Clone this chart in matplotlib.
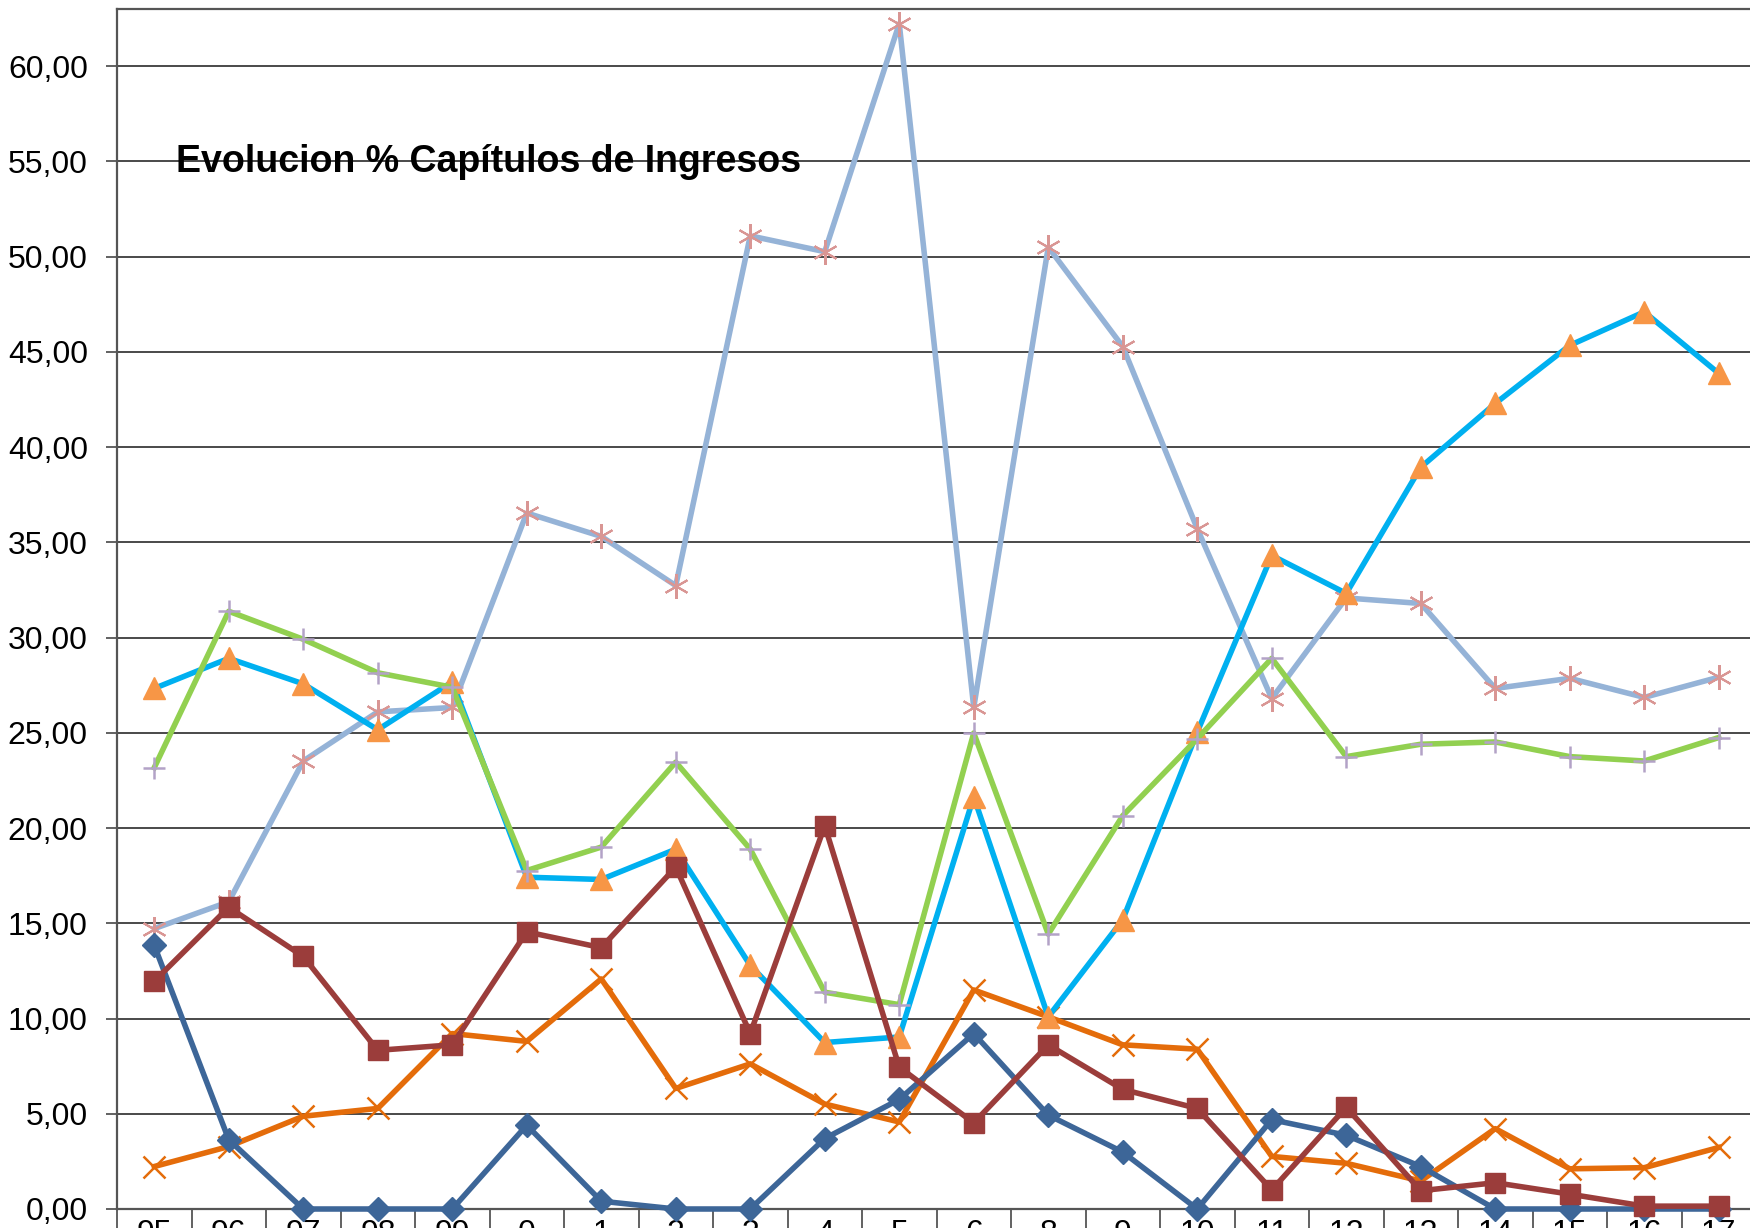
import numpy as np
from matplotlib import pyplot as plt
from matplotlib.ticker import FuncFormatter, FixedLocator

plt.rcParams['font.family'] = ['Liberation Sans', 'DejaVu Sans']

# categories (years)
years = ['95', '96', '97', '98', '99', '0', '1', '2', '3', '4', '5', '6',
         '8', '9', '10', '11', '12', '13', '14', '15', '16', '17']

# series values (% of revenue per chapter)
cap_azul = [13.84, 3.64, 0, 0, 0, 4.40, 0.41, 0, 0, 3.70, 5.75, 9.21,
            4.93, 2.99, 0, 4.69, 3.87, 2.23, 0, 0, 0, 0]
cap_rojo = [11.96, 15.84, 13.26, 8.33, 8.62, 14.55, 13.72, 17.95, 9.21, 20.12, 7.45, 4.52,
            8.62, 6.28, 5.28, 1.00, 5.34, 0.96, 1.38, 0.78, 0.15, 0.15]
cap_verde = [23.17, 31.38, 29.91, 28.15, 27.39, 17.77, 19.00, 23.46, 18.89, 11.38, 10.73, 24.99,
             14.43, 20.65, 24.69, 28.91, 23.75, 24.40, 24.52, 23.75, 23.52, 24.75]
cap_cian = [27.33, 28.91, 27.57, 25.16, 27.68, 17.42, 17.30, 18.89, 12.79, 8.74, 9.03, 21.64,
            10.09, 15.19, 25.04, 34.31, 32.32, 38.94, 42.29, 45.34, 47.10, 43.87]
cap_celeste = [14.72, 16.13, 23.52, 26.10, 26.33, 36.54, 35.31, 32.73, 51.09, 50.26, 62.23, 26.33,
               50.50, 45.28, 35.72, 26.80, 32.08, 31.79, 27.33, 27.86, 26.86, 27.92]
cap_naranja = [2.23, 3.28, 4.87, 5.28, 9.21, 8.80, 12.08, 6.33, 7.62, 5.51, 4.57, 11.50,
               10.09, 8.62, 8.39, 2.76, 2.40, 1.47, 4.22, 2.11, 2.17, 3.23]

x = np.arange(len(years))

fig = plt.figure(figsize=(17.5, 12.28), dpi=100)
ax = fig.add_axes([117 / 1750, 19 / 1228, 1639 / 1750, 1200 / 1228])

ax.plot(x, cap_naranja, color='#E46C0A', lw=4, marker='x', ms=16, mew=1.8,
        mec='#E46C0A', zorder=3, clip_on=False)
ax.plot(x, cap_celeste, color='#95B3D7', lw=4, marker=(6, 2, 0), ms=18, mew=1.5,
        mec='#D99694', zorder=4, clip_on=False)
ax.plot(x, cap_cian, color='#00B0F0', lw=4, marker='^', ms=16,
        mfc='#F79646', mec='#F79646', zorder=5, clip_on=False)
ax.plot(x, cap_verde, color='#92D050', lw=4, marker='+', ms=16, mew=1.8,
        mec='#B3A2C7', zorder=6, clip_on=False)
ax.plot(x, cap_azul, color='#3D6698', lw=4, marker='D', ms=12,
        mfc='#3D6698', mec='#3D6698', zorder=7, clip_on=False)
ax.plot(x, cap_rojo, color='#9B3D3B', lw=4, marker='s', ms=15,
        mfc='#9B3D3B', mec='#9B3D3B', zorder=8, clip_on=False)

ax.set_xlim(-0.5, len(years) - 0.5)
ax.set_ylim(0, 63)

ax.set_yticks(np.arange(0, 61, 5))
ax.yaxis.set_major_formatter(FuncFormatter(lambda v, p: ('%.2f' % v).replace('.', ',')))
ax.yaxis.grid(True, color='#3a3a3a', lw=1.3)
ax.set_axisbelow(True)

ax.set_xticks(x)
ax.set_xticklabels(years)
ax.xaxis.set_minor_locator(FixedLocator(np.arange(-0.5, len(years), 1)))
ax.tick_params(axis='x', which='major', length=0, pad=7, labelsize=23)
ax.tick_params(axis='x', which='minor', length=30, width=1.3, color='#555555')
ax.tick_params(axis='y', which='major', length=8, width=1.3, color='#555555',
               labelsize=23, pad=13)

for s in ['left', 'top', 'bottom']:
    ax.spines[s].set_color('#555555')
    ax.spines[s].set_linewidth(1.6)
ax.spines['right'].set_visible(False)

fig.text(176 / 1750, 1066 / 1228, 'Evolucion % Capítulos de Ingresos',
         fontsize=27, fontweight='bold', va='center', ha='left')

fig.savefig('out.png', dpi=100)
